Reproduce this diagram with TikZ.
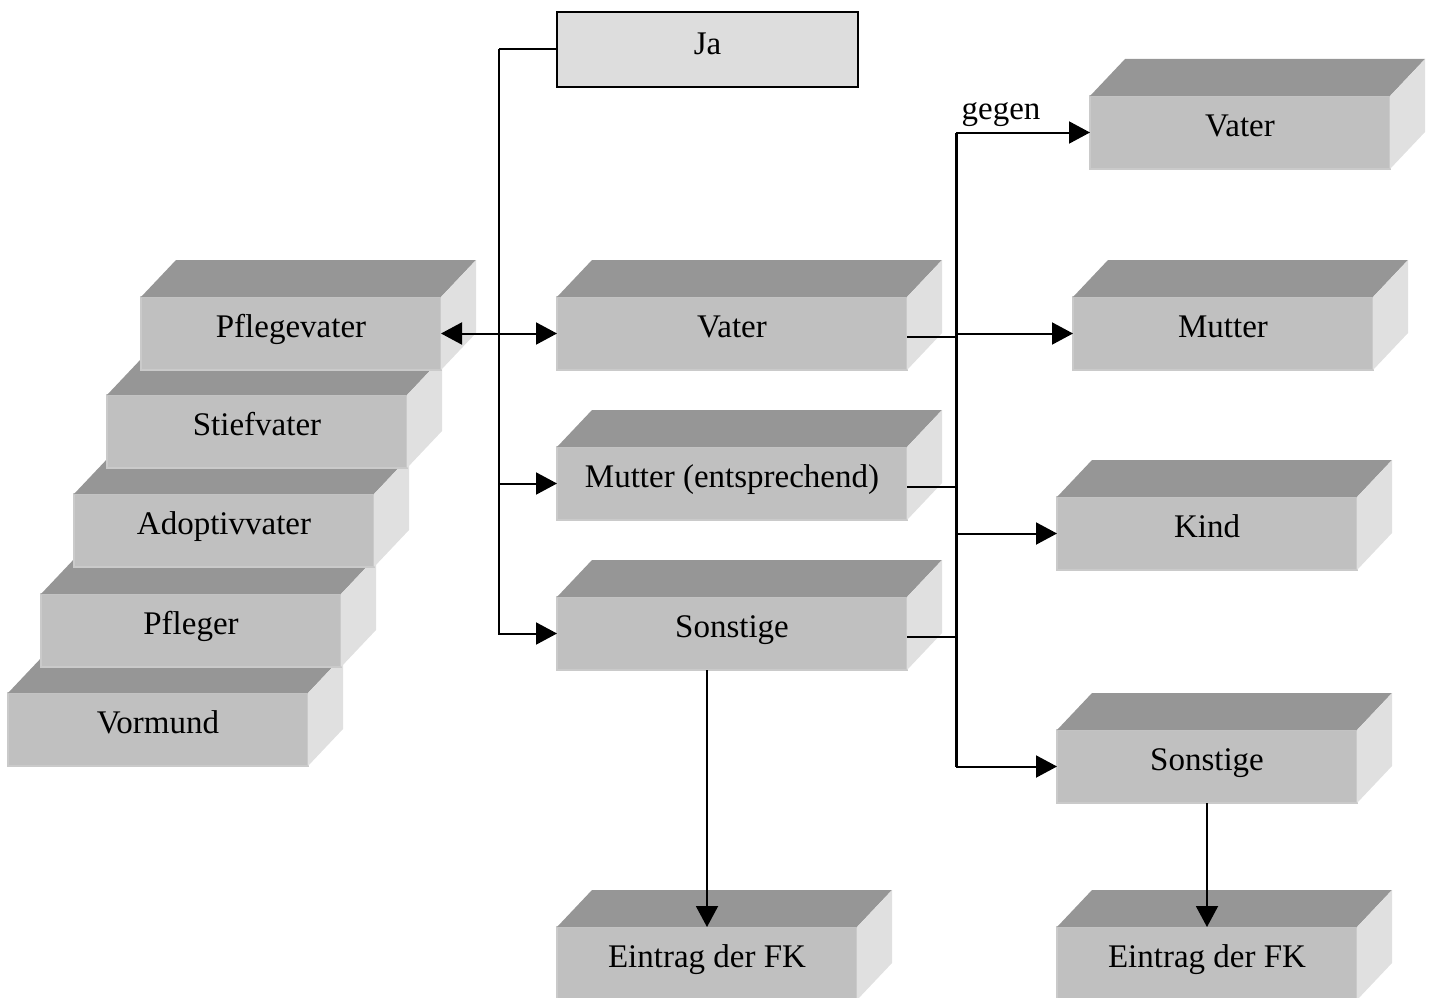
\documentclass[tikz,border=0pt]{standalone}
\usepackage{fontspec}
\setmainfont{Liberation Serif}
\usetikzlibrary{arrows.meta}
\definecolor{frontgray}{HTML}{C0C0C0}
\definecolor{frontedge}{HTML}{CACACA}
\definecolor{topgray}{HTML}{969696}
\definecolor{sidegray}{HTML}{E0E0E0}
\definecolor{jagray}{HTML}{DDDDDD}

\tikzset{
  block/.style={fill=frontgray, draw=frontedge, line width=1.5pt, outer sep=0pt,
    minimum height=73pt, inner sep=0pt, anchor=north west,
    text height=22pt, text depth=15pt,
    font=\fontsize{33}{40}\selectfont},
  link/.style={line width=2pt},
  bus/.style={line width=3pt},
  tip/.style={-{Triangle[length=21pt,width=22pt]}},
  twotip/.style={{Triangle[length=21pt,width=22pt]}-{Triangle[length=21pt,width=22pt]}},
  label/.style={font=\fontsize{33}{40}\selectfont, inner sep=0pt},
}

% a raised block: front face as a node, top and right faces added behind it
% #1 name, #2 x, #3 y of the front's top left corner, #4 width, #5 text
\newcommand\cubebox[5]{%
  \node[block, minimum width=#4pt] (#1) at (#2,#3) {#5};
  \fill[topgray] (#1.north west) -- ++(35,-37) -- ++(#4,0) -- (#1.north east) -- cycle;
  \fill[sidegray] (#1.north east) -- ++(35,-37) -- ++(0,73) -- (#1.south east) -- cycle;
}

\begin{document}
\begin{tikzpicture}[x=1pt,y=-1pt]
\useasboundingbox (0,0) rectangle (1435,998);
\clip (0,0) rectangle (1435,998);

% left stack, drawn from the bottom up
\cubebox{vormund}{8}{693}{300}{Vormund}
\cubebox{pfleger}{41}{594}{300}{Pfleger}
\cubebox{adopt}{74}{494}{300}{Adoptivvater}
\cubebox{stief}{107}{395}{300}{Stiefvater}
\cubebox{pflege}{141}{297}{300}{Pflegevater}

% middle column
\node[fill=jagray, draw=black, line width=1.5pt, outer sep=0pt, anchor=north west,
  minimum width=301pt, minimum height=75pt, inner sep=0pt,
  text height=22pt, text depth=11pt,
  font=\fontsize{33}{40}\selectfont] (ja) at (557,12) {Ja};
\cubebox{vater}{557}{297}{350}{Vater}
\cubebox{mutter}{557}{447}{350}{Mutter (entsprechend)}
\cubebox{sonst}{557}{597}{350}{Sonstige}
\cubebox{eintragL}{557}{927}{300}{Eintrag der FK}

% right column
\cubebox{rvater}{1090}{96}{300}{Vater}
\cubebox{rmutter}{1073}{297}{300}{Mutter}
\cubebox{kind}{1057}{497}{300}{Kind}
\cubebox{rsonst}{1057}{730}{300}{Sonstige}
\cubebox{eintragR}{1057}{927}{300}{Eintrag der FK}

% left distribution line
\coordinate (busL) at (499,0);
\draw[link] (ja.west) -- (busL |- ja.west);
\draw[link,tip] (busL |- ja.west) |- (sonst.west);
\draw[link,tip] (busL |- mutter.west) -- (mutter.west);
\draw[link,twotip] (pflege.east) -- (vater.west);

% right distribution line
\coordinate (busR) at (956,0);
\draw[bus] (busR |- rvater.west) -- (busR |- rsonst.west);
\draw[link,tip] (busR |- rvater.west) -- (rvater.west);
\draw[link,tip] (busR |- rmutter.west) -- (rmutter.west);
\draw[link,tip] (busR |- kind.west) -- (kind.west);
\draw[link,tip] (busR |- rsonst.west) -- (rsonst.west);
\draw[link] ([yshift=-3pt]vater.east) -- ([yshift=-3pt]busR |- vater.east);
\draw[link] ([yshift=-3pt]mutter.east) -- ([yshift=-3pt]busR |- mutter.east);
\draw[link] ([yshift=-3pt]sonst.east) -- ([yshift=-3pt]busR |- sonst.east);
\node[label, anchor=base] (gegen) at (1001,119) {gegen};

% down to the entries
\draw[link,tip] (sonst.south -| eintragL.north) -- (eintragL.north);
\draw[link,tip] (rsonst.south) -- (eintragR.north);
\end{tikzpicture}
\end{document}
